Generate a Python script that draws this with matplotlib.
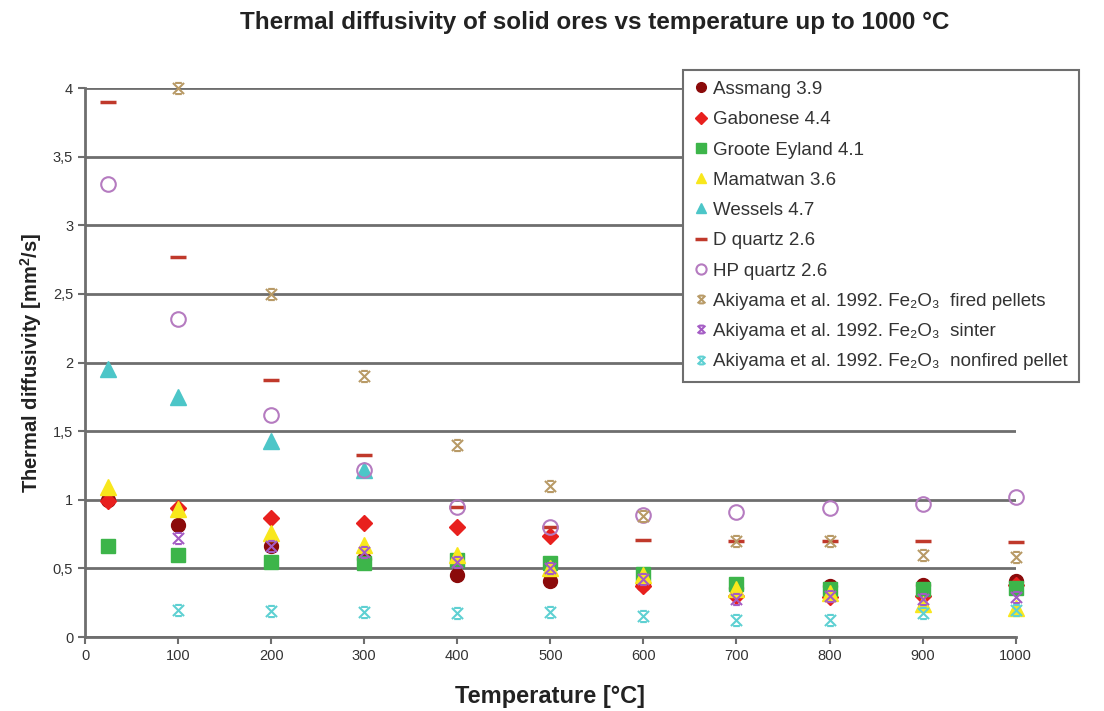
import numpy as np
import matplotlib
matplotlib.use("Agg")
import matplotlib.pyplot as plt
from matplotlib.path import Path

plt.rcParams['font.family'] = ['Liberation Sans', 'DejaVu Sans']
plt.rcParams['mathtext.fontset'] = 'custom'
plt.rcParams['mathtext.rm'] = 'Liberation Sans'
plt.rcParams['mathtext.it'] = 'Liberation Sans:italic'
plt.rcParams['mathtext.bf'] = 'Liberation Sans:bold'

# data
temps = [25, 100, 200, 300, 400, 500, 600, 700, 800, 900, 1000]
temps_akiyama = [100, 200, 300, 400, 500, 600, 700, 800, 900, 1000]

assmang = [1.00, 0.82, 0.66, 0.57, 0.45, 0.41, 0.39, 0.36, 0.37, 0.38, 0.41]
gabonese = [0.99, 0.94, 0.87, 0.83, 0.80, 0.74, 0.37, 0.30, 0.29, 0.30, 0.38]
groote = [0.66, 0.60, 0.55, 0.54, 0.56, 0.54, 0.46, 0.39, 0.35, 0.35, 0.36]
mamatwan = [1.09, 0.93, 0.76, 0.67, 0.60, 0.50, 0.45, 0.35, 0.32, 0.24, 0.21]
wessels_t = [25, 100, 200, 300]
wessels = [1.95, 1.75, 1.43, 1.22]
d_quartz = [3.90, 2.77, 1.87, 1.33, 0.95, 0.80, 0.71, 0.70, 0.70, 0.70, 0.69]
hp_quartz = [3.30, 2.32, 1.62, 1.22, 0.95, 0.80, 0.89, 0.91, 0.94, 0.97, 1.02]
fired = [4.00, 2.50, 1.90, 1.40, 1.10, 0.88, 0.70, 0.70, 0.60, 0.58]
sinter = [0.72, 0.66, 0.62, 0.55, 0.50, 0.42, 0.28, 0.30, 0.28, 0.29]
nonfired = [0.20, 0.19, 0.18, 0.175, 0.18, 0.155, 0.125, 0.125, 0.175, 0.20]

yticks = [0, 0.5, 1, 1.5, 2, 2.5, 3, 3.5, 4]
ytick_labels = ['0', '0,5', '1', '1,5', '2', '2,5', '3', '3,5', '4']
xticks = [0, 100, 200, 300, 400, 500, 600, 700, 800, 900, 1000]

# X with short caps top and bottom, like the spreadsheet star marker
star = Path([(-1, -1), (1, 1), (-1, 1), (1, -1), (-0.6, 1), (0.6, 1), (-0.6, -1), (0.6, -1)],
            [Path.MOVETO, Path.LINETO, Path.MOVETO, Path.LINETO,
             Path.MOVETO, Path.LINETO, Path.MOVETO, Path.LINETO])

fig = plt.figure(figsize=(11.04, 7.11), dpi=100)
ax = fig.add_axes([0.077, 0.104, 0.843, 0.772])

kw = dict(linestyle='none', clip_on=False, zorder=3)
ax.plot(temps, assmang, marker='o', ms=10, color='#8B0A0A', mec='#8B0A0A', label='Assmang 3.9', **kw)
ax.plot(temps, gabonese, marker='D', ms=8.5, color='#E8201E', mec='#E8201E', label='Gabonese 4.4', **kw)
ax.plot(temps, groote, marker='s', ms=10, color='#3DB54A', mec='#3DB54A', label='Groote Eyland 4.1', **kw)
ax.plot(temps, mamatwan, marker='^', ms=11, color='#F8E71C', mec='#F8E71C', label='Mamatwan 3.6', **kw)
ax.plot(wessels_t, wessels, marker='^', ms=11, color='#4CC6C8', mec='#4CC6C8', label='Wessels 4.7', **kw)
ax.plot(temps, d_quartz, marker='_', ms=12, mew=2.5, color='#C0392B', label='D quartz 2.6', **kw)
ax.plot(temps, hp_quartz, marker='o', ms=10.5, mfc='none', mec='#B57BC0', mew=1.5,
        label='HP quartz 2.6', **kw)
ax.plot(temps_akiyama, fired, marker=star, ms=8, mfc='none', mec='#B89A66', mew=1.5,
        label='Akiyama et al. 1992. Fe₂O₃  fired pellets', **kw)
ax.plot(temps_akiyama, sinter, marker=star, ms=8, mfc='none', mec='#A45BC4', mew=1.5,
        label='Akiyama et al. 1992. Fe₂O₃  sinter', **kw)
ax.plot(temps_akiyama, nonfired, marker=star, ms=8, mfc='none', mec='#5ED0D2', mew=1.5,
        label='Akiyama et al. 1992. Fe₂O₃  nonfired pellet', **kw)

ax.set_xlim(0, 1000)
ax.set_ylim(0, 4)
ax.set_xticks(xticks)
ax.set_yticks(yticks)
ax.set_yticklabels(ytick_labels)
for s in ['top', 'right']:
    ax.spines[s].set_visible(False)
for s in ['left', 'bottom']:
    ax.spines[s].set_color('#6e6e6e')
    ax.spines[s].set_linewidth(2)
ax.tick_params(colors='#6e6e6e', labelcolor='#333333', labelsize=10.5, length=5, width=1.5)
ax.grid(axis='y', color='#6e6e6e', linewidth=2)
ax.set_axisbelow(True)

ax.set_xlabel('Temperature [°C]', fontsize=17, fontweight='bold', color='#222222', labelpad=16)
ax.set_ylabel('Thermal diffusivity [mm$^{\\mathbf{2}}$/s]', fontsize=14.5, fontweight='bold',
              color='#222222', labelpad=6)
fig.text(0.539, 0.968, 'Thermal diffusivity of solid ores vs temperature up to 1000 °C',
         ha='center', va='center', fontsize=17.5, fontweight='bold', color='#222222')

leg = ax.legend(loc='upper left', bbox_to_anchor=(0.619, 0.902), bbox_transform=fig.transFigure,
                borderaxespad=0, fontsize=13.5, markerscale=0.7, handlelength=0.7,
                handletextpad=0.3, labelspacing=0.7, borderpad=0.6, fancybox=False,
                framealpha=1, edgecolor='#6e6e6e')
leg.get_frame().set_linewidth(1.5)
for t in leg.get_texts():
    t.set_color('#333333')

fig.savefig('out.png', dpi=100)
